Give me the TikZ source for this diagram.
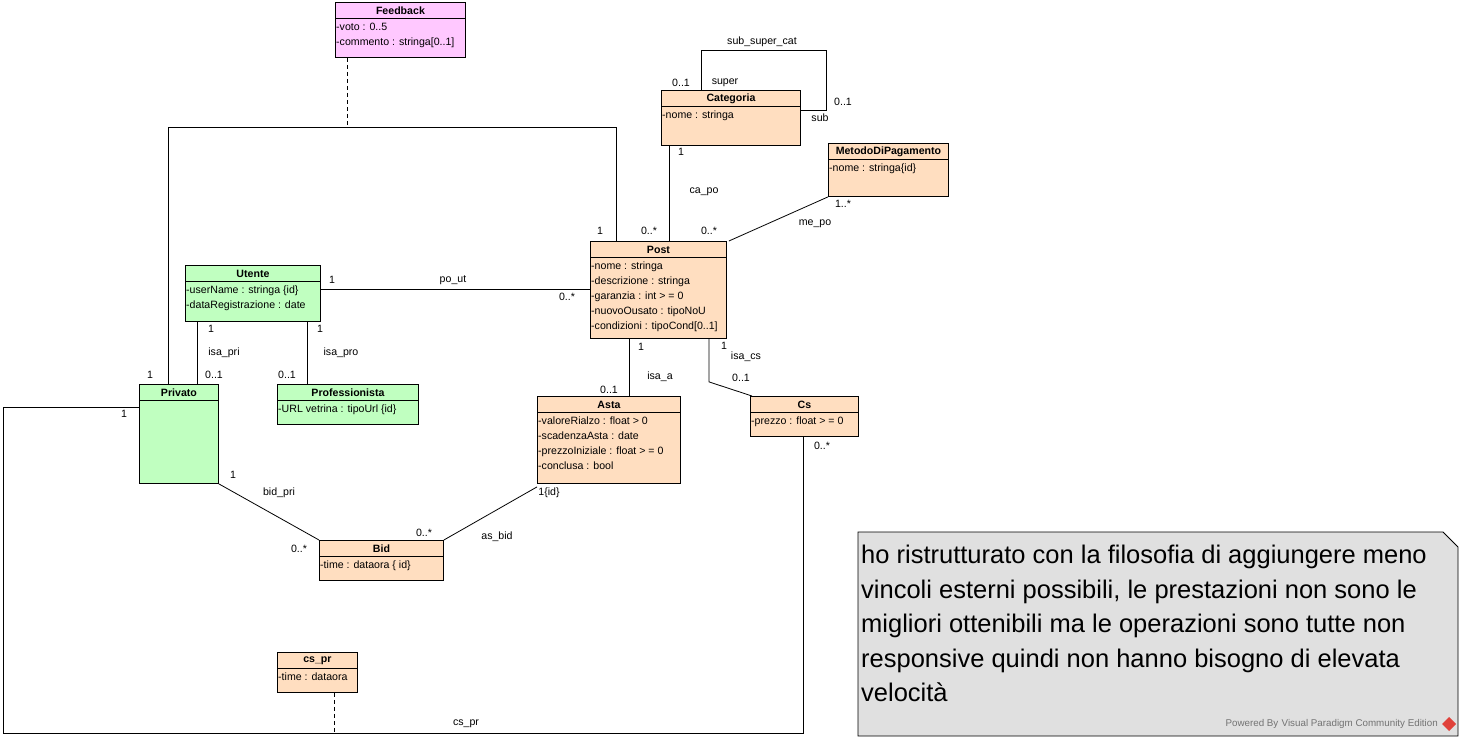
\documentclass[tikz,border=0pt]{standalone}
\usepackage{fontspec}
\setmainfont{Liberation Sans}
\usetikzlibrary{calc}
\definecolor{pinkfill}{HTML}{FFC8FF}
\definecolor{orangefill}{HTML}{FFDEC0}
\definecolor{greenfill}{HTML}{C0FFC0}
\definecolor{notefill}{HTML}{E0E0E0}
\definecolor{vpred}{HTML}{E0413A}
\tikzset{
  clsbox/.style={draw=black, line width=0.9pt, inner sep=0pt},
  clshdr/.style={font=\fontsize{10.6}{11}\selectfont\bfseries, inner sep=0pt},
  clsattr/.style={font=\fontsize{10.6}{15}\selectfont, align=left, inner xsep=1pt, inner ysep=2pt},
  conn/.style={line width=0.8pt},
  lbl/.style={font=\fontsize{10.6}{11}\selectfont, inner sep=0pt},
}
\newcommand\umlcls[8]{%
  \node[clsbox, fill=#6, minimum width=#4, minimum height=#5, anchor=north west] (#1) at (#2,#3) {};
  \node[clshdr] (#1-t) at ($(#1.north)+(0,8.5)$) {#7};
  \draw[line width=0.8pt] ($(#1.north west)+(0,16)$) -- ($(#1.north east)+(0,16)$);
  \node[clsattr, anchor=north west] (#1-a) at ($(#1.north west)+(0,19)$) {#8};
}
\begin{document}
\begin{tikzpicture}[x=1pt,y=-1pt]
\useasboundingbox (0,0) rectangle (1462,741);

% classes
\umlcls{feedback}{335}{2}{130}{55}{pinkfill}{Feedback}{-voto : 0..5\\-commento : stringa[0..1]}
\umlcls{categoria}{661}{90}{139}{55}{orangefill}{Categoria}{-nome : stringa}
\umlcls{metodo}{828}{143}{120}{53}{orangefill}{MetodoDiPagamento}{-nome : stringa\{id\}}
\umlcls{post}{590}{241}{136}{97}{orangefill}{Post}{-nome : stringa\\-descrizione : stringa\\-garanzia : int > = 0\\-nuovoOusato : tipoNoU\\-condizioni : tipoCond[0..1]}
\umlcls{utente}{185}{265}{135}{56}{greenfill}{Utente}{-userName : stringa \{id\}\\-dataRegistrazione : date}
\umlcls{privato}{139}{384}{79}{99}{greenfill}{Privato}{}
\umlcls{prof}{277}{384}{141}{40}{greenfill}{Professionista}{-URL vetrina : tipoUrl \{id\}}
\umlcls{asta}{537}{396}{143}{87}{orangefill}{Asta}{-valoreRialzo : float > 0\\-scadenzaAsta : date\\-prezzoIniziale : float > = 0\\-conclusa : bool}
\umlcls{cs}{750}{396}{108}{40}{orangefill}{Cs}{-prezzo : float > = 0}
\umlcls{bid}{319}{540}{124}{40}{orangefill}{Bid}{-time : dataora \{ id\}}
\umlcls{cspr}{277}{652}{80}{40}{orangefill}{cs\_pr}{-time : dataora}

% association Privato - Post with association class Feedback
\coordinate (fbj) at (347,127);
\coordinate (priA) at ($(privato.north west)+(29,0)$);
\coordinate (postA) at ($(post.north west)+(26,0)$);
\draw[conn] (priA) -- (priA |- fbj) -| (postA);
\draw[conn, dashed, dash pattern=on 4pt off 3pt] ($(feedback.south west)+(12,0)$) -- (fbj);
\node[lbl] at (150,375) {1};
\node[lbl] at (600,231) {1};

% sub_super_cat
\draw[conn] ($(categoria.north west)+(40,0)$) -- ++(0,-40) -| ($(categoria.north east)+(25,20)$) -- ($(categoria.north east)+(0,20)$);
\node[lbl] at (762,42) {sub\_super\_cat};
\node[lbl] at (681,83) {0..1};
\node[lbl] at (725,83) {super};
\node[lbl] at (843,102) {0..1};
\node[lbl] at (820,118) {sub};

% ca_po
\draw[conn] ($(categoria.south west)+(8,0)$) -- ($(post.north west)+(79,0)$);
\node[lbl] at (681,152) {1};
\node[lbl] at (704,192) {ca\_po};
\node[lbl] at (649,231) {0..*};

% me_po
\draw[conn] (metodo.south west) -- ($(post.north east)+(2,0)$);
\node[lbl] at (843,204) {1..*};
\node[lbl] at (815,224) {me\_po};
\node[lbl] at (709,231) {0..*};

% po_ut
\draw[conn] ($(utente.north east)+(0,24)$) coordinate (ut1) -- (ut1 -| post.west);
\node[lbl] at (332,280) {1};
\node[lbl] at (453,280) {po\_ut};
\node[lbl] at (567,297) {0..*};

% isa_pri
\draw[conn] ($(utente.south west)+(12,0)$) -- ($(privato.north west)+(58,0)$);
\node[lbl] at (211,329) {1};
\node[lbl] at (224,353) {isa\_pri};
\node[lbl] at (214,375) {0..1};

% isa_pro
\draw[conn] ($(utente.south west)+(122,0)$) -- ($(prof.north west)+(30,0)$);
\node[lbl] at (320,329) {1};
\node[lbl] at (341,353) {isa\_pro};
\node[lbl] at (287,375) {0..1};

% isa_a
\draw[conn] ($(post.south west)+(39,0)$) -- ($(asta.north west)+(92,0)$);
\node[lbl] at (641,347) {1};
\node[lbl] at (660,377) {isa\_a};
\node[lbl] at (609,390) {0..1};

% isa_cs
\draw[conn] ($(post.south west)+(119,0)$) -- ++(0,43) -- ($(cs.north west)+(2,0)$);
\node[lbl] at (724,346) {1};
\node[lbl] at (746,357) {isa\_cs};
\node[lbl] at (741,378) {0..1};

% bid_pri
\draw[conn] (privato.south east) -- (bid.north west);
\node[lbl] at (233,475) {1};
\node[lbl] at (279,493) {bid\_pri};
\node[lbl] at (299,549) {0..*};

% as_bid
\draw[conn] ($(asta.south west)+(0,3)$) -- (bid.north east);
\node[lbl] at (549,493) {1\{id\}};
\node[lbl] at (497,537) {as\_bid};
\node[lbl] at (424,533) {0..*};

% cs_pr
\coordinate (loopL) at (3,733);
\coordinate (csprj) at ($(cspr.south west)+(57,41)$);
\draw[conn] ($(privato.north west)+(0,23)$) -| (loopL) -| ($(cs.south west)+(53,0)$);
\draw[conn, dashed, dash pattern=on 4pt off 3pt] ($(cspr.south west)+(57,0)$) -- (csprj);
\node[lbl] at (124,414) {1};
\node[lbl] at (822,446) {0..*};
\node[lbl] at (466,724) {cs\_pr};

% note
\draw[line width=0.9pt, fill=notefill] (858,532) -- (1443,532) -- (1458,547) -- (1458,736) -- (858,736) -- cycle;
\node[anchor=north west, align=left, inner sep=0pt, font=\fontsize{25.5}{34.5}\selectfont] (note) at (861,545) {ho ristrutturato con la filosofia di aggiungere meno\\vincoli esterni possibili, le prestazioni non sono le\\migliori ottenibili ma le operazioni sono tutte non\\responsive quindi non hanno bisogno di elevata\\velocità};
\node[anchor=east, inner sep=0pt, font=\fontsize{9.8}{10}\selectfont, text=black!55] (powered) at (1438,724) {Powered By\,\,Visual Paradigm Community Edition};
\fill[vpred] (1449,717) -- (1456,724) -- (1449,731) -- (1442,724) -- cycle;
\end{tikzpicture}
\end{document}
